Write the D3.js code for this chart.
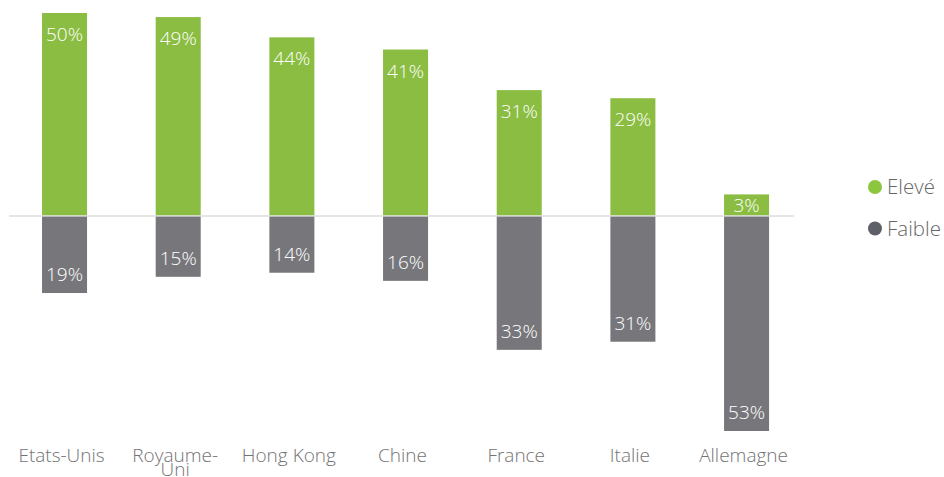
<!DOCTYPE html>
<html>
<head>
<meta charset="utf-8">
<script src="https://cdn.jsdelivr.net/npm/d3@7"></script>
<style>
  html, body { margin: 0; padding: 0; background: #fff; }
  svg { display: block; font-family: "Open Sans", "Noto Sans", sans-serif; }
</style>
</head>
<body>
<svg id="chart" width="944" height="477"></svg>
<script>
const categories = ["Etats-Unis", "Royaume-Uni", "Hong Kong", "Chine", "France", "Italie", "Allemagne"];
const eleve = [50, 49, 44, 41, 31, 29, 3];
const faible = [19, 15, 14, 16, 33, 31, 53];
const seriesNames = ["Elevé", "Faible"];

const svg = d3.select("#chart");
const green = "#8abd42", gray = "#77777b";
const legendColors = ["#8cc63f", "#5d6066"];

const x = d3.scaleBand().domain(categories).range([7.7, 803.4]).paddingInner(0.604).paddingOuter(0.302);
const y = d3.scaleLinear().domain([-53, 50]).range([431, 13]);
const y0 = y(0);
const minH = 21.5;

// zero line
svg.append("line").attr("x1", 9).attr("x2", 794).attr("y1", y0).attr("y2", y0)
  .attr("stroke", "#dcdcdc").attr("stroke-width", 1.5);

const pos = categories.map((c, i) => ({ c, v: eleve[i] }));
const neg = categories.map((c, i) => ({ c, v: faible[i] }));

svg.append("g").selectAll("rect").data(pos).join("rect")
  .attr("x", d => x(d.c)).attr("width", x.bandwidth())
  .attr("y", d => y0 - Math.max(y0 - y(d.v), minH))
  .attr("height", d => Math.max(y0 - y(d.v), minH) - 0.7)
  .attr("fill", green);

svg.append("g").selectAll("rect").data(neg).join("rect")
  .attr("x", d => x(d.c)).attr("width", x.bandwidth())
  .attr("y", y0 + 0.7)
  .attr("height", d => Math.max(y(-d.v) - y0, minH) - 0.7)
  .attr("fill", gray);

const lblStyle = sel => sel.attr("text-anchor", "middle").attr("fill", "#fff")
  .attr("font-size", 19).attr("font-weight", 300);

svg.append("g").selectAll("text").data(pos).join("text").call(lblStyle)
  .attr("x", d => x(d.c) + x.bandwidth() / 2)
  .attr("y", d => {
    const top = y0 - Math.max(y0 - y(d.v), minH);
    return Math.min(top + 28, y0 - 3.5);
  })
  .text(d => d.v + "%");

svg.append("g").selectAll("text").data(neg).join("text").call(lblStyle)
  .attr("x", d => x(d.c) + x.bandwidth() / 2)
  .attr("y", d => {
    const bottom = y0 + Math.max(y(-d.v) - y0, minH);
    return Math.max(bottom - 12, y0 + 18);
  })
  .text(d => d.v + "%");

// category labels
const catG = svg.append("g");
categories.forEach(c => {
  const cx = x(c) + x.bandwidth() / 2 - 3;
  const t = catG.append("text")
    .attr("x", cx).attr("y", 462)
    .attr("text-anchor", "middle").attr("fill", "#737373")
    .attr("font-size", 19).attr("font-weight", 300);
  t.text(c);
  if (t.node().getComputedTextLength() > 100 && c.includes("-")) {
    t.text(null);
    const idx = c.indexOf("-") + 1;
    t.append("tspan").attr("x", cx).text(c.slice(0, idx));
    t.append("tspan").attr("x", cx).attr("dy", 14).text(c.slice(idx));
  }
});

// legend
const lg = svg.append("g");
seriesNames.forEach((s, i) => {
  const cy = 187 + i * 41.5;
  lg.append("circle").attr("cx", 875).attr("cy", cy).attr("r", 7).attr("fill", legendColors[i]);
  lg.append("text").attr("x", 887).attr("y", cy + 7).attr("fill", "#666")
    .attr("font-size", 20.5).attr("font-weight", 300).text(s);
});
</script>
</body>
</html>
